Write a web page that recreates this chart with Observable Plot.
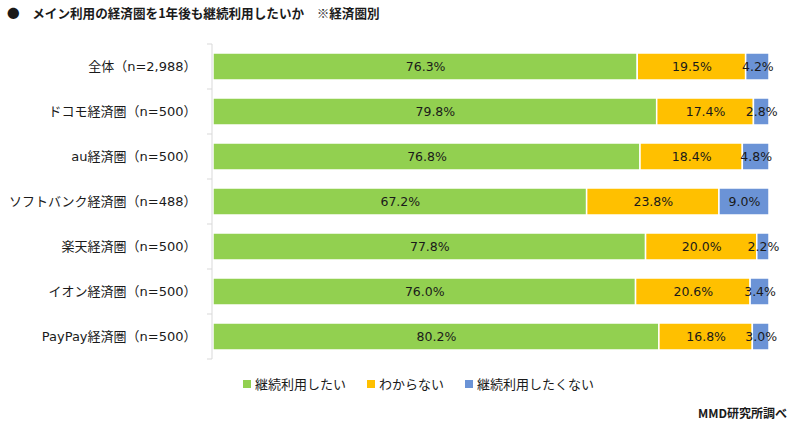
<!DOCTYPE html>
<html><head><meta charset="utf-8">
<script src="https://cdn.jsdelivr.net/npm/d3@7"></script>
<script src="https://cdn.jsdelivr.net/npm/@observablehq/plot@0.6"></script>
<style>
body{margin:0;background:#fff;font-family:"Noto Sans CJK JP",sans-serif;color:#1a1a1a;}
#wrap{position:relative;width:800px;height:429px;}
#title{position:absolute;left:7px;top:3px;font-size:12.6px;font-weight:bold;white-space:pre;}
#chart{position:absolute;left:0;top:28px;line-height:0;}
#legend{position:absolute;left:243px;top:374px;display:flex;font-size:13px;}
#legend span.it{display:flex;align-items:center;margin-right:21px;}
#legend i{display:inline-block;width:8px;height:8px;margin-right:4px;}
#foot{position:absolute;right:13px;top:404px;font-size:12px;font-weight:bold;}
</style></head>
<body><div id="wrap">
<div id="title"></div>
<div id="chart"></div>
<div id="legend"></div>
<div id="foot">MMD研究所調べ</div>
</div>
<script>
const categories = ["全体（n=2,988）", "ドコモ経済圏（n=500）", "au経済圏（n=500）", "ソフトバンク経済圏（n=488）", "楽天経済圏（n=500）", "イオン経済圏（n=500）", "PayPay経済圏（n=500）"];
const seriesNames = ["継続利用したい", "わからない", "継続利用したくない"];
const want = [76.3, 79.8, 76.8, 67.2, 77.8, 76.0, 80.2];
const unsure = [19.5, 17.4, 18.4, 23.8, 20.0, 20.6, 16.8];
const notWant = [4.2, 2.8, 4.8, 9.0, 2.2, 3.4, 3.0];
const colors = ["#92d050", "#ffc000", "#6b93d6"];

const values = [want, unsure, notWant];
const data = [];
categories.forEach((c, i) => {
  seriesNames.forEach((s, j) => data.push({cat: c, series: s, value: values[j][i]}));
});

document.getElementById("title").textContent = "●　メイン利用の経済圏を1年後も継続利用したいか　※経済圏別";

const FONT = '"DejaVu Sans", "Noto Sans CJK JP", sans-serif';

// category boundary ticks, drawn from the y band scale
function boundaryTicks(index, scales, values, dims) {
  const y = scales.y;
  const step = y.step(), bw = y.bandwidth();
  const g = d3.create("svg:g").attr("stroke", "#d9d9d9").attr("stroke-width", 1);
  const x0 = dims.marginLeft - 1;
  const ys = categories.map(c => y(c) - (step - bw) / 2);
  ys.push(y(categories[categories.length - 1]) + bw + (step - bw) / 2);
  ys.forEach(v => g.append("line").attr("x1", x0 - 5).attr("x2", x0).attr("y1", v).attr("y2", v));
  g.append("line").attr("x1", x0).attr("x2", x0).attr("y1", ys[0]).attr("y2", ys[ys.length - 1]);
  return g.node();
}

const chart = Plot.plot({
  width: 800,
  height: 340,
  marginLeft: 213,
  marginRight: 31,
  marginTop: 14,
  marginBottom: 7,
  style: {fontFamily: FONT, fontSize: "13px", color: "#1a1a1a", background: "transparent"},
  x: {domain: [0, 100], axis: null},
  y: {domain: categories, paddingInner: 0.4, paddingOuter: 0.2, label: null, tickSize: 0, tickPadding: 17},
  color: {domain: seriesNames, range: colors},
  marks: [
    Plot.barX(data, Plot.stackX({x: "value", y: "cat", fill: "series", order: seriesNames, stroke: "white", strokeWidth: 1.5})),
    Plot.text(data, Plot.stackX({x: "value", y: "cat", z: "series", order: seriesNames, text: d => d.value.toFixed(1) + "%", fill: "#1a1a1a", fontSize: 12.5, fontFamily: FONT})),
    boundaryTicks
  ]
});
document.getElementById("chart").appendChild(chart);

const lg = document.getElementById("legend");
seriesNames.forEach((s, j) => {
  const sp = document.createElement("span");
  sp.className = "it";
  sp.innerHTML = `<i style="background:${colors[j]}"></i>${s}`;
  lg.appendChild(sp);
});
</script>
</body></html>
